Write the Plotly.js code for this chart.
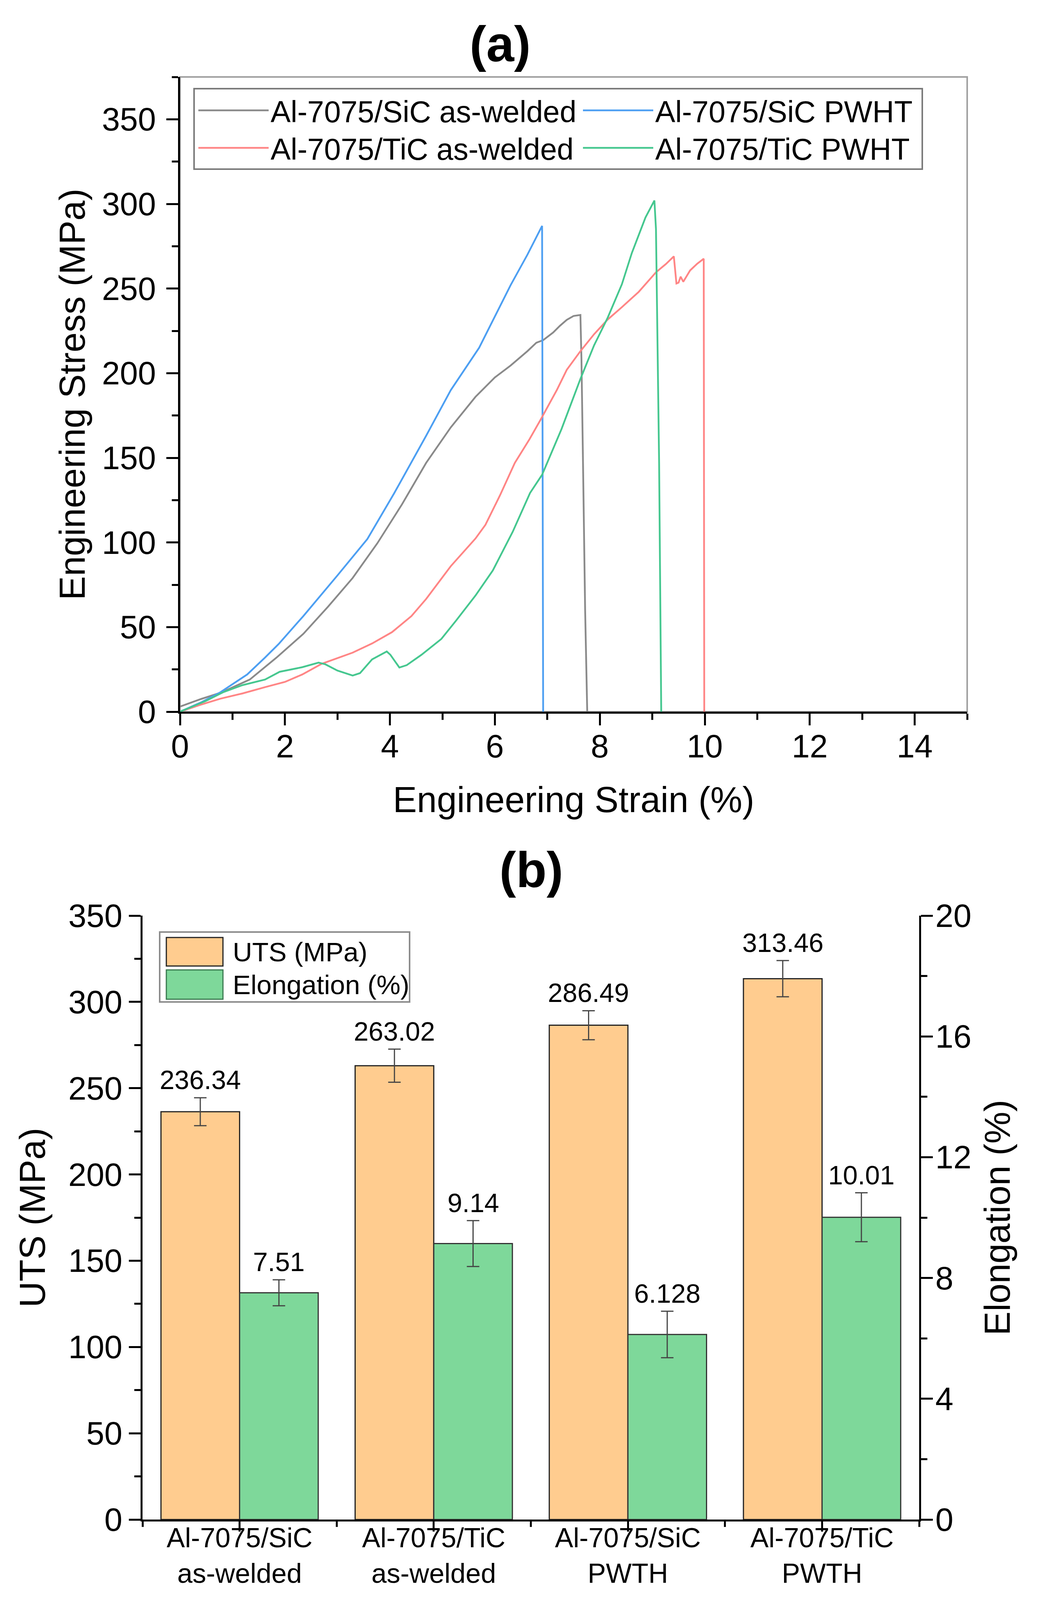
<!DOCTYPE html>
<html>
<head>
<meta charset="utf-8">
<script src="https://cdn.plot.ly/plotly-3.0.1.min.js"></script>
<style>
html,body{margin:0;padding:0;background:#ffffff;}
#chart{width:2684px;height:4246px;}
</style>
</head>
<body>
<div id="chart"></div>
<script>
// ---------- (a) tensile curves: engineering strain (%) vs engineering stress (MPa) ----------
var sicAwStrain = [0, 0.4, 0.8, 1.33, 1.84, 2.35, 2.82, 3.29, 3.76, 4.23, 4.69, 5.16, 5.63, 6.0, 6.3, 6.62, 6.79, 6.92, 7.11, 7.24, 7.37, 7.5, 7.63, 7.65, 7.68, 7.72, 7.76];
var sicAwStress = [3, 7.5, 11.5, 19, 32, 46, 62, 79, 99.5, 122.5, 147, 168, 186, 197.5, 204.5, 213, 218, 219.5, 224, 228, 231.5, 233.8, 234.4, 208, 146, 60, 0];

var sicPwStrain = [0, 0.4, 0.77, 1.28, 1.62, 1.88, 2.35, 3.0, 3.57, 4.08, 4.69, 5.16, 5.7, 6.3, 6.62, 6.9, 6.92];
var sicPwStress = [0, 5.5, 11.5, 22, 32, 40, 56.5, 80.5, 102, 129, 163, 190, 215, 252, 270, 287, 0];

var ticAwStrain = [0, 0.37, 0.77, 1.19, 1.62, 2.0, 2.33, 2.7, 3.29, 3.66, 4.04, 4.41, 4.69, 5.16, 5.63, 5.82, 6.1, 6.38, 6.66, 6.88, 7.18, 7.37, 7.63, 7.89, 8.15, 8.42, 8.74, 9.07, 9.26, 9.41, 9.46, 9.5, 9.54, 9.59, 9.72, 9.85, 9.98, 9.99];
var ticAwStress = [0, 3.9, 7.7, 10.8, 14.5, 17.6, 22, 28.3, 34.9, 40.3, 47, 56.5, 66.6, 86, 102.3, 110.4, 128, 147, 161, 173, 190, 202, 213, 223, 231.7, 239, 248, 259.6, 264.5, 269, 253, 253.5, 257, 254, 260.7, 264.5, 267.6, 0];

var ticPwStrain = [0, 0.48, 0.82, 1.19, 1.62, 1.9, 2.33, 2.64, 2.77, 3.0, 3.29, 3.43, 3.66, 3.94, 4.01, 4.18, 4.32, 4.6, 4.98, 5.26, 5.63, 5.96, 6.34, 6.67, 6.9, 7.27, 7.63, 7.89, 8.15, 8.42, 8.61, 8.87, 9.04, 9.07, 9.13, 9.17];
var ticPwStress = [0, 6.2, 11.5, 15.7, 19, 23.6, 26.3, 29, 28, 24.3, 21.4, 22.8, 30.9, 35.6, 33.6, 26.1, 27.5, 33.6, 43, 53.8, 68.6, 83.4, 106.3, 129.2, 140, 167, 196.6, 216.4, 232.8, 252.5, 271, 292, 302, 285, 146.5, 0];

var curveNames = ['Al-7075/SiC as-welded', 'Al-7075/SiC PWHT', 'Al-7075/TiC as-welded', 'Al-7075/TiC PWHT'];

// ---------- (b) UTS and elongation bars ----------
var categories = ['Al-7075/SiC<br>as-welded', 'Al-7075/TiC<br>as-welded', 'Al-7075/SiC<br>PWTH', 'Al-7075/TiC<br>PWTH'];
var catPos = [0, 1, 2, 3];
var utsValues = [236.34, 263.02, 286.49, 313.46];
var utsErrors = [8.1, 9.6, 8.4, 10.5];
var elongValues = [7.51, 9.14, 6.128, 10.01];
var elongErrors = [0.43, 0.76, 0.77, 0.81];
var barNames = ['UTS (MPa)', 'Elongation (%)'];

// ---------- styles ----------
var FONT = 'Liberation Sans, Arial, Helvetica, sans-serif';
var colGray = '#8a8a8a', colBlue = '#4d9ff2', colRed = '#ff8585', colGreen = '#45c78f';
var colOrange = '#ffcc8f', colBarGreen = '#7ed89a';
var W = 2684, H = 4246;
function px(v) { return v / W; }
function py(v) { return 1 - v / H; }

var barW = 0.405;

function lineTrace(x, y, name, color, legendId) {
  return {type: 'scatter', mode: 'lines', x: x, y: y, name: name, xaxis: 'x', yaxis: 'y',
          legend: legendId, line: {color: color, width: 4.5}, hoverinfo: 'x+y+name'};
}

var data = [
  lineTrace(sicAwStrain, sicAwStress, curveNames[0], colGray, 'legend'),
  lineTrace(sicPwStrain, sicPwStress, curveNames[1], colBlue, 'legend2'),
  lineTrace(ticAwStrain, ticAwStress, curveNames[2], colRed, 'legend3'),
  lineTrace(ticPwStrain, ticPwStress, curveNames[3], colGreen, 'legend4'),
  {type: 'bar', x: catPos, y: utsValues, name: barNames[0], xaxis: 'x2', yaxis: 'y3',
   width: barW, offset: -barW, showlegend: false,
   marker: {color: colOrange, line: {color: '#222', width: 3}},
   error_y: {type: 'data', array: utsErrors, visible: true, color: '#444', thickness: 3, width: 16}},
  {type: 'bar', x: catPos, y: elongValues, name: barNames[1], xaxis: 'x2', yaxis: 'y4',
   width: barW, offset: 0, showlegend: false,
   marker: {color: colBarGreen, line: {color: '#333', width: 3}},
   error_y: {type: 'data', array: elongErrors, visible: true, color: '#444', thickness: 3, width: 16}}
];

var minorBounds = catPos.map(function (p) { return p - 0.5; }).concat([catPos[catPos.length - 1] + 0.5]);

var axisCommon = {
  showline: true, linecolor: '#000', linewidth: 5, showgrid: false, zeroline: false,
  ticks: 'outside', ticklen: 30, tickwidth: 5, tickcolor: '#000',
  tickfont: {family: FONT, size: 83, color: '#000'}
};
function ax(extra) { return Object.assign({}, axisCommon, extra); }

var annotations = [];
// value labels above error bars
utsValues.forEach(function (v, i) {
  annotations.push({x: catPos[i] - barW / 2, y: v + utsErrors[i], xref: 'x2', yref: 'y3',
    text: String(v), showarrow: false, yanchor: 'bottom', xanchor: 'center', yshift: 6,
    font: {family: FONT, size: 68, color: '#000'}});
});
elongValues.forEach(function (v, i) {
  annotations.push({x: catPos[i] + barW / 2, y: v + elongErrors[i], xref: 'x2', yref: 'y4',
    text: String(v), showarrow: false, yanchor: 'bottom', xanchor: 'center', yshift: 6,
    font: {family: FONT, size: 68, color: '#000'}});
});
// panel label (b)
annotations.push({x: px(1360), y: py(2226), xref: 'paper', yref: 'paper', text: '<b>(b)</b>',
  showarrow: false, xanchor: 'center', yanchor: 'middle', font: {family: FONT, size: 128, color: '#000'}});
// manual legend text for bars
annotations.push({x: px(594), y: py(2437), xref: 'paper', yref: 'paper', text: barNames[0],
  showarrow: false, xanchor: 'left', yanchor: 'middle', font: {family: FONT, size: 69, color: '#000'}});
annotations.push({x: px(594), y: py(2521), xref: 'paper', yref: 'paper', text: barNames[1],
  showarrow: false, xanchor: 'left', yanchor: 'middle', font: {family: FONT, size: 69, color: '#000'}});

var shapes = [
  // grey frame around panel (a)
  {type: 'rect', xref: 'x domain', yref: 'y domain', x0: 0, x1: 1, y0: 0, y1: 1,
   line: {color: '#a0a0a0', width: 4}, layer: 'below'},
  // legend box of panel (a)
  {type: 'rect', xref: 'paper', yref: 'paper', x0: px(497), x1: px(2362), y0: py(433), y1: py(227),
   line: {color: '#7a7a7a', width: 4}, fillcolor: '#ffffff', layer: 'above'},
  // bar legend box + swatches
  {type: 'rect', xref: 'paper', yref: 'paper', x0: px(409), x1: px(1049), y0: py(2565), y1: py(2386),
   line: {color: '#8c8c8c', width: 4}, fillcolor: '#ffffff', layer: 'above'},
  {type: 'rect', xref: 'paper', yref: 'paper', x0: px(426), x1: px(571), y0: py(2473), y1: py(2400),
   line: {color: '#222', width: 3}, fillcolor: colOrange, layer: 'above'},
  {type: 'rect', xref: 'paper', yref: 'paper', x0: px(426), x1: px(571), y0: py(2558), y1: py(2483),
   line: {color: '#3a7a50', width: 3}, fillcolor: colBarGreen, layer: 'above'}
];

function legendAt(xPx, yPx) {
  return {x: px(xPx), y: py(yPx), xref: 'paper', yref: 'paper', xanchor: 'left', yanchor: 'middle',
    orientation: 'v', bgcolor: 'rgba(0,0,0,0)', borderwidth: 0,
    font: {family: FONT, size: 77, color: '#000'}, itemwidth: 180};
}

var layout = {
  width: W, height: H,
  margin: {l: 0, r: 0, t: 0, b: 0, pad: 0},
  paper_bgcolor: '#ffffff', plot_bgcolor: '#ffffff',
  font: {family: FONT, color: '#000'},
  showlegend: true,
  barmode: 'overlay',
  title: {text: '<b>(a)</b>', x: px(1281), y: py(112), xref: 'paper', yref: 'paper',
          xanchor: 'center', yanchor: 'middle', font: {family: FONT, size: 128, color: '#000'}},
  xaxis: ax({domain: [px(461), px(2477)], range: [0, 15], anchor: 'y',
    tickmode: 'linear', tick0: 0, dtick: 2, ticklabelstandoff: -18,
    minor: {ticks: 'outside', ticklen: 16, tickwidth: 5, tickcolor: '#000', dtick: 1, tick0: 0},
    title: {text: 'Engineering Strain (%)', font: {family: FONT, size: 92, color: '#000'}, standoff: 60}}),
  yaxis: ax({domain: [py(1822), py(197)], range: [0, 375], anchor: 'x',
    tickmode: 'linear', tick0: 0, dtick: 50, ticklabelstandoff: 10,
    minor: {ticks: 'outside', ticklen: 16, tickwidth: 5, tickcolor: '#000', dtick: 25, tick0: 0},
    title: {text: 'Engineering Stress (MPa)', font: {family: FONT, size: 92, color: '#000'}, standoff: 14}}),
  xaxis2: ax({domain: [px(365), px(2354)], range: [-0.5, 3.5], anchor: 'y3',
    tickmode: 'array', tickvals: catPos, ticktext: categories, ticklen: 26,
    tickfont: {family: FONT, size: 70, color: '#000'}, ticklabelstandoff: -44,
    minor: {ticks: 'outside', ticklen: 14, tickwidth: 5, tickcolor: '#000', tickmode: 'array', tickvals: minorBounds}}),
  xaxis3: ax({domain: [px(365), px(2354)], range: [-0.5, 3.5], anchor: 'y3', overlaying: 'x2', side: 'top',
    ticks: 'inside', tickmode: 'array', tickvals: catPos, showticklabels: false,
    minor: {ticks: 'inside', ticklen: 16, tickwidth: 5, tickcolor: '#000', tickmode: 'array', tickvals: minorBounds}}),
  yaxis3: ax({domain: [py(3890), py(2344)], range: [0, 350], anchor: 'x2',
    tickmode: 'linear', tick0: 0, dtick: 50,
    minor: {ticks: 'outside', ticklen: 16, tickwidth: 5, tickcolor: '#000', dtick: 25, tick0: 0},
    title: {text: 'UTS (MPa)', font: {family: FONT, size: 92, color: '#000'}, standoff: 30}}),
  yaxis4: ax({domain: [py(3890), py(2344)], range: [0, 20], anchor: 'x2', overlaying: 'y3', side: 'right',
    tickmode: 'linear', tick0: 0, dtick: 4, ticklabelstandoff: -10,
    minor: {ticks: 'outside', ticklen: 16, tickwidth: 5, tickcolor: '#000', dtick: 2, tick0: 0},
    title: {text: 'Elongation (%)', font: {family: FONT, size: 92, color: '#000'}, standoff: 36}}),
  legend: legendAt(503, 283),
  legend2: legendAt(1488, 283),
  legend3: legendAt(503, 379),
  legend4: legendAt(1488, 379),
  annotations: annotations,
  shapes: shapes
};

Plotly.newPlot('chart', data, layout, {staticPlot: true, displayModeBar: false});
</script>
</body>
</html>
